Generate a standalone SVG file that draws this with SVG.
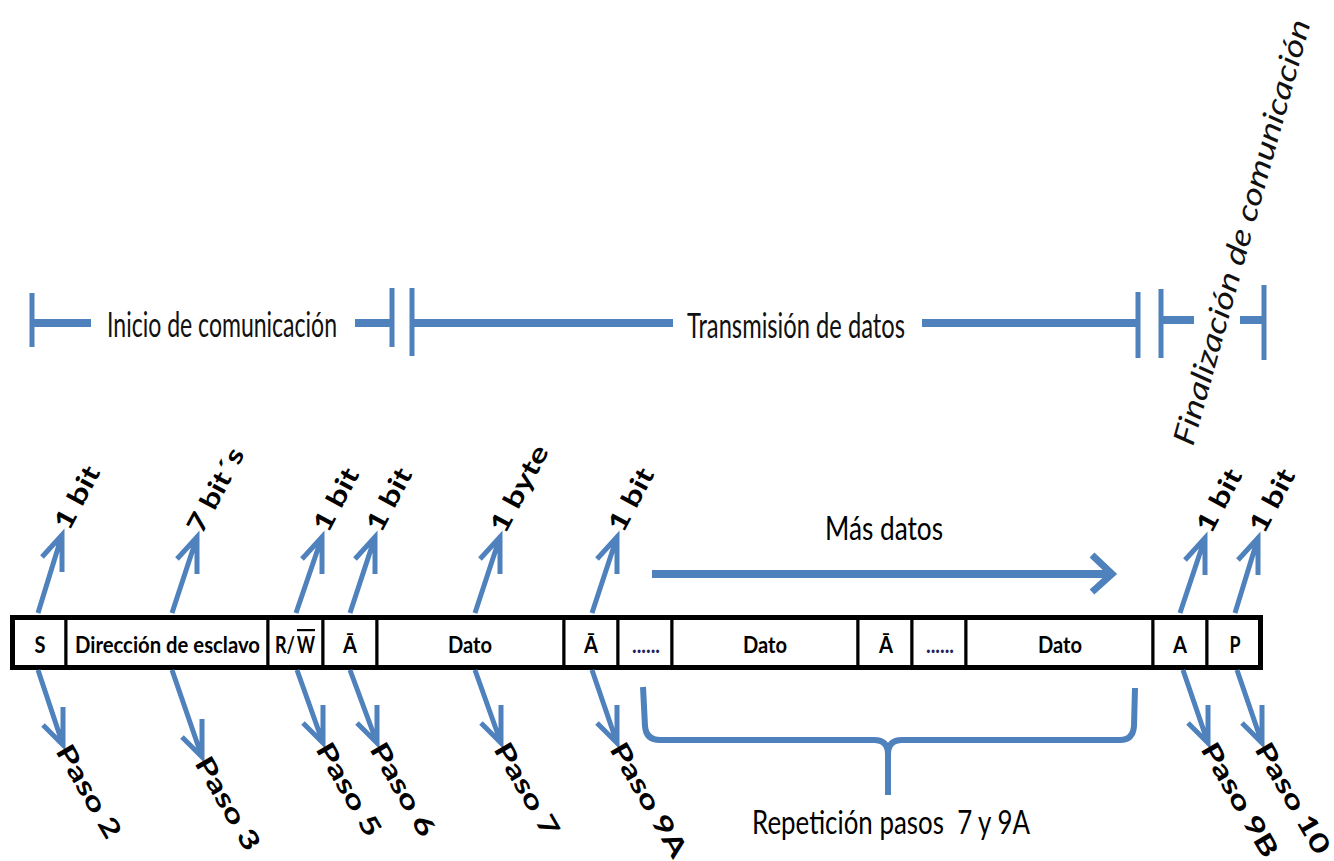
<svg xmlns="http://www.w3.org/2000/svg" width="1334" height="861" viewBox="0 0 1334 861">
  <style>
    .bg { fill: #ffffff; }
    .cell rect { fill: #ffffff; stroke: #000000; stroke-width: 3; }
    .cell text { font-family: Lato, "Liberation Sans", sans-serif; font-weight: 700; font-size: 22px; fill: #000000; text-anchor: middle; }
    .cell text.dots { fill: #1f1f5f; }
    .cell text.neg { text-decoration: overline; }
    .frame { fill: none; stroke: #000000; stroke-width: 5; }
    .conn { fill: none; stroke: #4F81BD; stroke-width: 5; stroke-linejoin: miter; stroke-linecap: butt; }
    .hbar { fill: none; stroke: #4F81BD; stroke-width: 8; }
    .tick { fill: none; stroke: #4F81BD; stroke-width: 5; }
    .brace { fill: none; stroke: #4F81BD; stroke-width: 6; stroke-linejoin: round; }
    .phase { font-family: Lato, "Liberation Sans", sans-serif; font-weight: 400; font-size: 34px; fill: #111111; }
    .phase-rot { font-family: Lato, "Liberation Sans", sans-serif; font-weight: 400; font-style: italic; font-size: 30px; fill: #111111; }
    .size { font-family: Lato, "Liberation Sans", sans-serif; font-weight: 700; font-size: 26px; fill: #000000; }
    .step { font-family: Lato, "Liberation Sans", sans-serif; font-weight: 700; font-size: 26px; fill: #000000; }
    .note { font-family: Lato, "Liberation Sans", sans-serif; font-weight: 400; font-size: 33px; fill: #000000; }
  </style>

  <rect class="bg" x="0" y="0" width="1334" height="861"/>

  <!-- Phase brackets above the frame -->
  <g id="phase-inicio">
    <line class="tick" x1="32" y1="293" x2="32" y2="347"/>
    <line class="hbar" x1="32" y1="323" x2="91" y2="323"/>
    <text class="phase" x="107" y="337" textLength="230" lengthAdjust="spacingAndGlyphs">Inicio de comunicación</text>
    <line class="hbar" x1="355" y1="323" x2="392" y2="323"/>
    <line class="tick" x1="392" y1="288" x2="392" y2="347"/>
  </g>
  <g id="phase-transmision">
    <line class="tick" x1="412" y1="288" x2="412" y2="356"/>
    <line class="hbar" x1="412" y1="323" x2="673" y2="323"/>
    <text class="phase" x="687" y="338" textLength="218" lengthAdjust="spacingAndGlyphs">Transmisión de datos</text>
    <line class="hbar" x1="922" y1="323" x2="1138" y2="323"/>
    <line class="tick" x1="1138" y1="292" x2="1138" y2="358"/>
  </g>
  <g id="phase-final">
    <line class="tick" x1="1161" y1="289" x2="1161" y2="358"/>
    <line class="hbar" x1="1161" y1="320" x2="1194" y2="320"/>
    <line class="hbar" x1="1240" y1="320" x2="1264" y2="320"/>
    <line class="tick" x1="1264" y1="285" x2="1264" y2="360"/>
    <text class="phase-rot" transform="translate(1193,447) rotate(-74.5)" x="0" y="0" textLength="440" lengthAdjust="spacingAndGlyphs">Finalización de comunicación</text>
  </g>

  <!-- Frame cells -->
  <g id="cell-start" class="cell">
    <rect x="12.5" y="617.5" width="53.5" height="50"/>
    <text x="40" y="653" textLength="11" lengthAdjust="spacingAndGlyphs">S</text>
  </g>
  <g id="cell-address" class="cell">
    <rect x="66" y="617.5" width="202" height="50"/>
    <text x="167.5" y="653" textLength="185" lengthAdjust="spacingAndGlyphs">Dirección de esclavo</text>
  </g>
  <g id="cell-rw" class="cell">
    <rect x="268" y="617.5" width="55" height="50"/>
    <!-- read / not-write: W carries the negation bar -->
    <text x="285" y="653" textLength="20" lengthAdjust="spacingAndGlyphs">R/</text>
    <text class="neg" x="306" y="653" textLength="18" lengthAdjust="spacingAndGlyphs">W</text>
  </g>
  <g id="cell-ack1" class="cell">
    <rect x="323" y="617.5" width="54" height="50"/>
    <text x="350" y="653" textLength="14" lengthAdjust="spacingAndGlyphs">Ā</text>
  </g>
  <g id="cell-data1" class="cell">
    <rect x="377" y="617.5" width="187" height="50"/>
    <text x="470" y="653" textLength="44" lengthAdjust="spacingAndGlyphs">Dato</text>
  </g>
  <g id="cell-ack2" class="cell">
    <rect x="564" y="617.5" width="54" height="50"/>
    <text x="591" y="653" textLength="14" lengthAdjust="spacingAndGlyphs">Ā</text>
  </g>
  <g id="cell-more1" class="cell">
    <rect x="618" y="617.5" width="54" height="50"/>
    <text class="dots" x="646" y="653" textLength="28" lengthAdjust="spacingAndGlyphs">......</text>
  </g>
  <g id="cell-data2" class="cell">
    <rect x="672" y="617.5" width="186" height="50"/>
    <text x="765" y="653" textLength="44" lengthAdjust="spacingAndGlyphs">Dato</text>
  </g>
  <g id="cell-ack3" class="cell">
    <rect x="858" y="617.5" width="54" height="50"/>
    <text x="886" y="653" textLength="14" lengthAdjust="spacingAndGlyphs">Ā</text>
  </g>
  <g id="cell-more2" class="cell">
    <rect x="912" y="617.5" width="54" height="50"/>
    <text class="dots" x="940" y="653" textLength="28" lengthAdjust="spacingAndGlyphs">......</text>
  </g>
  <g id="cell-data3" class="cell">
    <rect x="966" y="617.5" width="187" height="50"/>
    <text x="1060" y="653" textLength="44" lengthAdjust="spacingAndGlyphs">Dato</text>
  </g>
  <g id="cell-ack-final" class="cell">
    <rect x="1153" y="617.5" width="54" height="50"/>
    <text x="1180" y="653" textLength="14" lengthAdjust="spacingAndGlyphs">A</text>
  </g>
  <g id="cell-stop" class="cell">
    <rect x="1207" y="617.5" width="53.5" height="50"/>
    <text x="1235" y="653" textLength="11" lengthAdjust="spacingAndGlyphs">P</text>
  </g>
  <rect class="frame" x="12.5" y="617.5" width="1248" height="50"/>

  <!-- Connectors: size arrows (up), step arrows (down), repetition arrow and brace -->
  <g id="connectors">
    <!-- up arrows -->
    <path class="conn" d="M38,613 L62,535 M42,557 L62,535 L62,572"/>
    <path class="conn" d="M172,613 L197,537 M177,559 L197,537 L197,574"/>
    <path class="conn" d="M296,613 L322,537 M302,559 L322,537 L322,574"/>
    <path class="conn" d="M350,613 L375,537 M355,559 L375,537 L375,574"/>
    <path class="conn" d="M475,613 L500,537 M480,559 L500,537 L500,574"/>
    <path class="conn" d="M592,613 L617,537 M597,559 L617,537 L617,574"/>
    <path class="conn" d="M1180,613 L1205,538 M1185,560 L1205,538 L1205,575"/>
    <path class="conn" d="M1235,613 L1258,538 M1238,560 L1258,538 L1258,575"/>
    <!-- down arrows -->
    <path class="conn" d="M38,670 L63,745 M43,725 L63,745 L63,707"/>
    <path class="conn" d="M172,670 L202,757 M182,737 L202,757 L202,719"/>
    <path class="conn" d="M297,670 L323,743 M303,723 L323,743 L323,705"/>
    <path class="conn" d="M350,670 L377,743 M357,723 L377,743 L377,705"/>
    <path class="conn" d="M475,670 L501,743 M481,723 L501,743 L501,705"/>
    <path class="conn" d="M592,670 L617,743 M597,723 L617,743 L617,705"/>
    <path class="conn" d="M1183,670 L1208,743 M1188,723 L1208,743 L1208,705"/>
    <path class="conn" d="M1237,670 L1262,743 M1242,723 L1262,743 L1262,705"/>
    <!-- more data arrow -->
    <line class="hbar" x1="652" y1="574" x2="1108" y2="574"/>
    <path class="conn" style="stroke-width:7" d="M1092,555 L1112,574 L1092,592"/>
    <!-- repetition brace -->
    <path class="brace" d="M643,687 L645,726 Q646,740 660,740 L874,740 Q888,740 888,754 L888,795 M888,754 Q888,740 902,740 L1120,740 Q1133,740 1134,726 L1135,688"/>
  </g>

  <!-- Field sizes -->
  <g id="sizes">
    <text class="size" transform="translate(69,532) rotate(-62)" textLength="68" lengthAdjust="spacingAndGlyphs">1 bit</text>
    <text class="size" transform="translate(202,535) rotate(-62)" textLength="92" lengthAdjust="spacingAndGlyphs">7 bit´s</text>
    <text class="size" transform="translate(328,534) rotate(-62)" textLength="68" lengthAdjust="spacingAndGlyphs">1 bit</text>
    <text class="size" transform="translate(381,534) rotate(-62)" textLength="68" lengthAdjust="spacingAndGlyphs">1 bit</text>
    <text class="size" transform="translate(505,535) rotate(-62)" textLength="95" lengthAdjust="spacingAndGlyphs">1 byte</text>
    <text class="size" transform="translate(623,534) rotate(-62)" textLength="68" lengthAdjust="spacingAndGlyphs">1 bit</text>
    <text class="size" transform="translate(1211,535) rotate(-62)" textLength="68" lengthAdjust="spacingAndGlyphs">1 bit</text>
    <text class="size" transform="translate(1264,535) rotate(-62)" textLength="68" lengthAdjust="spacingAndGlyphs">1 bit</text>
  </g>

  <!-- Protocol steps -->
  <g id="steps">
    <text class="step" transform="translate(55,751) rotate(60)" textLength="104" lengthAdjust="spacingAndGlyphs">Paso 2</text>
    <text class="step" transform="translate(194,763) rotate(60)" textLength="104" lengthAdjust="spacingAndGlyphs">Paso 3</text>
    <text class="step" transform="translate(315,749) rotate(60)" textLength="104" lengthAdjust="spacingAndGlyphs">Paso 5</text>
    <text class="step" transform="translate(369,749) rotate(60)" textLength="104" lengthAdjust="spacingAndGlyphs">Paso 6</text>
    <text class="step" transform="translate(493,749) rotate(60)" textLength="104" lengthAdjust="spacingAndGlyphs">Paso 7</text>
    <text class="step" transform="translate(609,749) rotate(60)" textLength="128" lengthAdjust="spacingAndGlyphs">Paso 9A</text>
    <text class="step" transform="translate(1200,749) rotate(60)" textLength="128" lengthAdjust="spacingAndGlyphs">Paso 9B</text>
    <text class="step" transform="translate(1254,749) rotate(60)" textLength="124" lengthAdjust="spacingAndGlyphs">Paso 10</text>
  </g>

  <!-- Repetition notes -->
  <g id="note-more">
    <text class="note" x="825" y="540" textLength="118" lengthAdjust="spacingAndGlyphs">Más datos</text>
  </g>
  <g id="note-repeat">
    <text class="note" x="752" y="834" xml:space="preserve" textLength="278" lengthAdjust="spacingAndGlyphs">Repetición pasos  7 y 9A</text>
  </g>
</svg>
